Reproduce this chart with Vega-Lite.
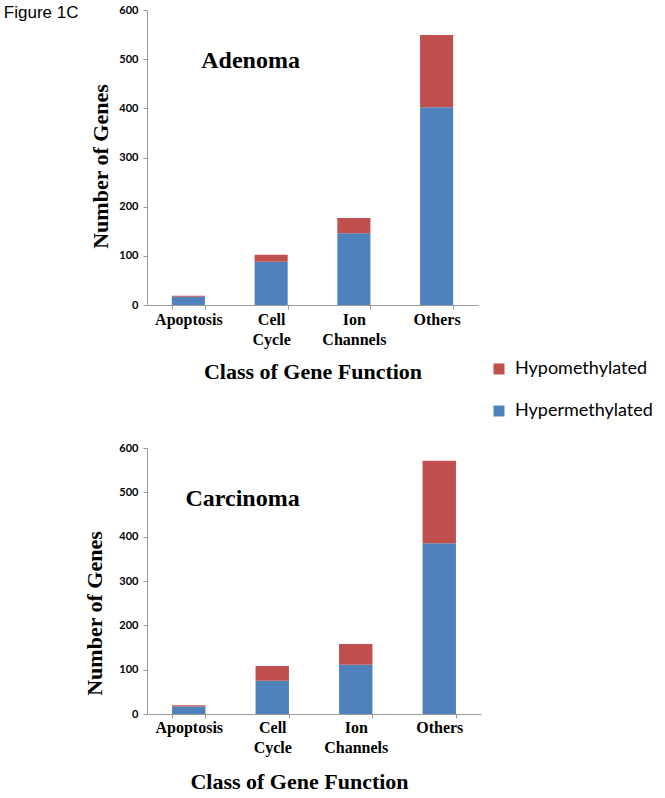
{
  "$schema": "https://vega.github.io/schema/vega-lite/v6.json",
  "padding": {"left": 3, "top": 4, "right": 5, "bottom": 5},
  "background": "white",
  "title": {"text": "Figure 1C", "anchor": "start", "frame": "bounds", "offset": -18, "dx": -80, "font": "Liberation Sans", "fontSize": 17, "fontWeight": "normal", "color": "#000"},
  "datasets": {
    "genes": [
      {"tumor": "Adenoma", "cls": "Apoptosis", "status": "Hypermethylated", "n": 17},
      {"tumor": "Adenoma", "cls": "Apoptosis", "status": "Hypomethylated", "n": 2},
      {"tumor": "Adenoma", "cls": "Cell Cycle", "status": "Hypermethylated", "n": 88},
      {"tumor": "Adenoma", "cls": "Cell Cycle", "status": "Hypomethylated", "n": 14},
      {"tumor": "Adenoma", "cls": "Ion Channels", "status": "Hypermethylated", "n": 146},
      {"tumor": "Adenoma", "cls": "Ion Channels", "status": "Hypomethylated", "n": 31},
      {"tumor": "Adenoma", "cls": "Others", "status": "Hypermethylated", "n": 402},
      {"tumor": "Adenoma", "cls": "Others", "status": "Hypomethylated", "n": 147},
      {"tumor": "Carcinoma", "cls": "Apoptosis", "status": "Hypermethylated", "n": 17},
      {"tumor": "Carcinoma", "cls": "Apoptosis", "status": "Hypomethylated", "n": 3},
      {"tumor": "Carcinoma", "cls": "Cell Cycle", "status": "Hypermethylated", "n": 75},
      {"tumor": "Carcinoma", "cls": "Cell Cycle", "status": "Hypomethylated", "n": 33},
      {"tumor": "Carcinoma", "cls": "Ion Channels", "status": "Hypermethylated", "n": 111},
      {"tumor": "Carcinoma", "cls": "Ion Channels", "status": "Hypomethylated", "n": 47},
      {"tumor": "Carcinoma", "cls": "Others", "status": "Hypermethylated", "n": 385},
      {"tumor": "Carcinoma", "cls": "Others", "status": "Hypomethylated", "n": 186}
    ]
  },
  "config": {
    "view": {"stroke": null},
    "axis": {"domainColor": "#9a9a9a", "tickColor": "#9a9a9a", "grid": false, "labelColor": "#000", "titleColor": "#000", "titleFont": "Liberation Serif", "titleFontWeight": "bold", "titleFontSize": 22},
    "axisX": {"labelFont": "Liberation Serif", "labelFontWeight": "bold", "labelFontSize": 16, "labelAngle": 0, "labelLineHeight": 20, "tickBand": "extent", "tickSize": 4},
    "axisY": {"labelFont": "Lato", "labelFontWeight": "bold", "labelFontSize": 11, "tickSize": 4, "labelPadding": 5}
  },
  "resolve": {"legend": {"color": "independent"}},
  "spacing": 22,
  "vconcat": [
    {
      "width": 331,
      "height": 295,
      "layer": [
        {
          "data": {"name": "genes"},
          "transform": [{"filter": "datum.tumor === 'Adenoma'"}],
          "mark": {"type": "bar"},
          "encoding": {
            "x": {"field": "cls", "type": "nominal", "sort": ["Apoptosis", "Cell Cycle", "Ion Channels", "Others"],
              "scale": {"domain": ["Apoptosis", "Cell Cycle", "Ion Channels", "Others"], "paddingInner": 0.6, "paddingOuter": 0.3},
              "title": "Class of Gene Function",
              "axis": {"labelExpr": "split(datum.label, ' ')", "labelPadding": 2, "titlePadding": 14}},
            "y": {"field": "n", "type": "quantitative", "stack": "zero",
              "scale": {"domain": [0, 600], "nice": false},
              "title": "Number of Genes",
              "axis": {"values": [0, 100, 200, 300, 400, 500, 600], "titlePadding": 6, "titleY": 156}},
            "color": {"field": "status", "type": "nominal",
              "scale": {"domain": ["Hypomethylated", "Hypermethylated"], "range": ["#C0504D", "#4F81BD"]},
              "legend": {"orient": "none", "legendX": 343, "legendY": 350, "title": null, "symbolType": "square", "symbolSize": 121, "symbolStrokeWidth": 0, "labelFont": "Lato", "labelFontSize": 18, "labelColor": "#000", "rowPadding": 24, "labelOffset": 7}},
            "order": {"field": "status", "sort": "ascending"}
          }
        },
        {
          "data": {"values": [{"cat": "Cell Cycle", "title": "Adenoma"}]},
          "mark": {"type": "text", "font": "Liberation Serif", "fontWeight": "bold", "fontSize": 24, "align": "center", "baseline": "alphabetic", "dx": -4, "color": "#000"},
          "encoding": {
            "x": {"field": "cat", "type": "nominal", "bandPosition": 0},
            "y": {"datum": 482, "type": "quantitative"},
            "text": {"field": "title"}
          }
        }
      ]
    },
    {
      "width": 334,
      "height": 266,
      "layer": [
        {
          "data": {"name": "genes"},
          "transform": [{"filter": "datum.tumor === 'Carcinoma'"}],
          "mark": {"type": "bar"},
          "encoding": {
            "x": {"field": "cls", "type": "nominal", "sort": ["Apoptosis", "Cell Cycle", "Ion Channels", "Others"],
              "scale": {"domain": ["Apoptosis", "Cell Cycle", "Ion Channels", "Others"], "paddingInner": 0.6, "paddingOuter": 0.3},
              "title": "Class of Gene Function",
              "axis": {"labelExpr": "split(datum.label, ' ')", "labelPadding": 1, "titlePadding": 16, "titleX": 152}},
            "y": {"field": "n", "type": "quantitative", "stack": "zero",
              "scale": {"domain": [0, 600], "nice": false},
              "title": "Number of Genes",
              "axis": {"values": [0, 100, 200, 300, 400, 500, 600], "titlePadding": 12, "titleY": 165}},
            "color": {"field": "status", "type": "nominal",
              "scale": {"domain": ["Hypomethylated", "Hypermethylated"], "range": ["#C0504D", "#4F81BD"]},
              "legend": null},
            "order": {"field": "status", "sort": "ascending"}
          }
        },
        {
          "data": {"values": [{"cat": "Cell Cycle", "title": "Carcinoma"}]},
          "mark": {"type": "text", "font": "Liberation Serif", "fontWeight": "bold", "fontSize": 24, "align": "center", "baseline": "alphabetic", "dx": -13, "color": "#000"},
          "encoding": {
            "x": {"field": "cat", "type": "nominal", "bandPosition": 0},
            "y": {"datum": 470, "type": "quantitative"},
            "text": {"field": "title"}
          }
        }
      ]
    }
  ]
}
